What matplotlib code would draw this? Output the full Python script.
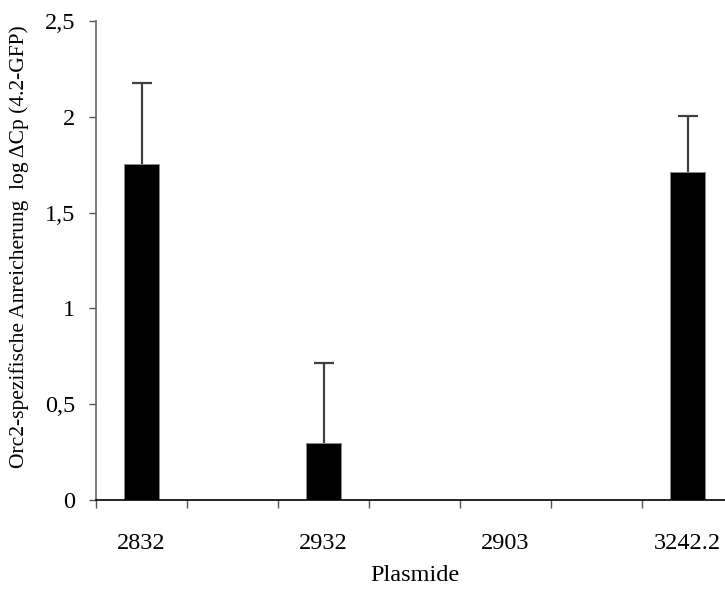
import matplotlib
matplotlib.use('Agg')
import matplotlib.pyplot as plt
import numpy as np

# values
plasmids = ['2832', '2932', '2903', '3242.2']
enrichment = [1.754, 0.296, 0.0, 1.713]
err_up = [0.42, 0.42, 0.0, 0.29]

plt.rcParams['font.family'] = ['Liberation Serif', 'DejaVu Serif']

fig = plt.figure(figsize=(7.25, 5.89), dpi=100)
ax = fig.add_axes([96/725, 1-500/589, 637/725, 479/589])

# every second slot holds a bar, the empty ones keep the spacing
pos = np.arange(len(plasmids)) * 2
ax.bar(pos, enrichment, width=0.38, color='black', edgecolor='#888888', linewidth=0.6, zorder=2)
keep = [0, 1, 3]
_, caps, _ = ax.errorbar(pos[keep], np.array(enrichment)[keep],
                         yerr=[np.zeros(3), np.array(err_up)[keep]],
                         fmt='none', ecolor='#404040', elinewidth=1.6,
                         capsize=7.5, capthick=1.6, zorder=1)
caps[0].set_visible(False)  # only the upper whisker has a cap

ax.set_xlim(-0.5, 6.5)
ax.set_ylim(0, 2.5)
ax.set_yticks([0, 0.5, 1, 1.5, 2, 2.5])
ax.set_yticklabels(['0', '0,5', '1', '1,5', '2', '2,5'], fontsize=17.5)
ax.set_xticks(pos)
ax.set_xticklabels(plasmids, fontsize=17.5)
ax.set_xticks(np.arange(-0.5, 7, 1), minor=True)
ax.tick_params(axis='x', which='major', length=0, pad=24)
ax.tick_params(axis='x', which='minor', length=6, color='#555555', width=1, direction='out')
ax.tick_params(axis='y', length=5, color='#555555', width=1, pad=10)

for s in ['top', 'right']:
    ax.spines[s].set_visible(False)
ax.spines['left'].set_color('#666666')
ax.spines['left'].set_linewidth(1.2)
ax.spines['bottom'].set_color('black')
ax.spines['bottom'].set_linewidth(1.2)

ax.set_xlabel('Plasmide', fontsize=17.5, labelpad=8)
ax.set_ylabel('Orc2-spezifische Anreicherung  log \u0394Cp (4.2-GFP)', fontsize=15.5, labelpad=12)
ax.yaxis.set_label_coords(-0.105, 0.53)

fig.savefig('out.png', dpi=100)
